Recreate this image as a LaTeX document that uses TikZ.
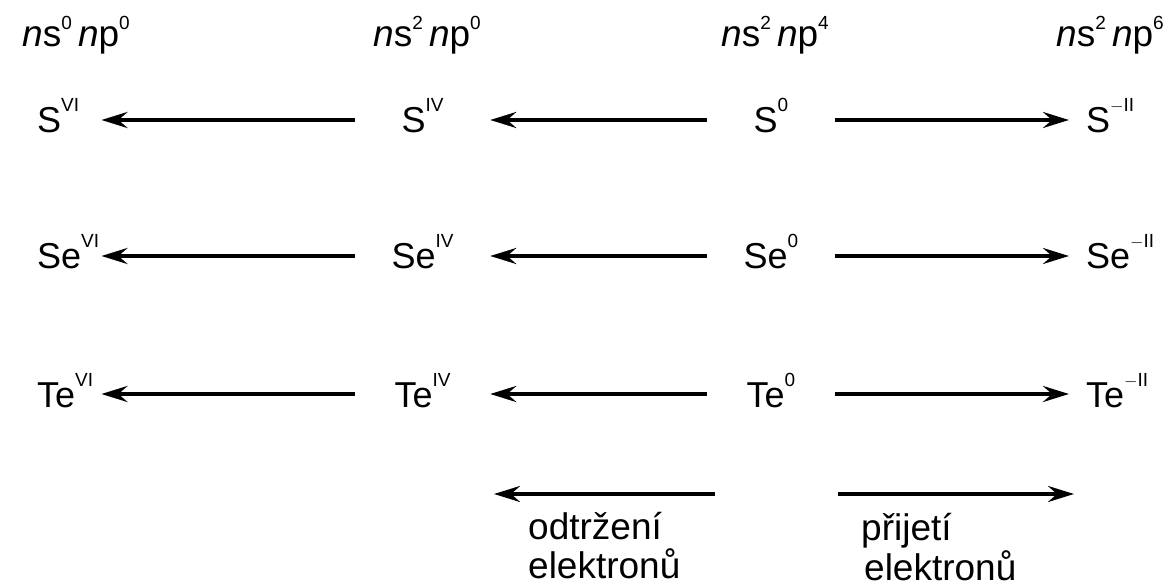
\documentclass[tikz,border=0pt]{standalone}
\usepackage{fontspec}
\setmainfont{Liberation Sans}
\usetikzlibrary{arrows.meta}
\newcommand{\elsup}[1]{\raisebox{21pt}{\fontsize{19}{19}\selectfont #1}}
\newcommand{\hdsup}[1]{\raisebox{17pt}{\fontsize{19}{19}\selectfont #1}}
\newcommand{\hdr}[2]{\textit{n}s\hdsup{#1}\,\textit{n}p\hdsup{#2}}
\begin{document}
\begin{tikzpicture}[x=1pt,y=-1pt,
  el/.style={font=\fontsize{36}{40}\selectfont, inner sep=0pt, text height=26pt, text depth=0pt},
  colA/.style={el, anchor=base west, text width=64pt, align=left},
  colB/.style={el, anchor=base, minimum width=135pt},
  colC/.style={el, anchor=base, minimum width=128pt},
  colD/.style={el, anchor=base west},
  hd/.style={font=\fontsize{37}{40}\selectfont, inner sep=0pt, anchor=base},
  lbl/.style={font=\fontsize{37}{42}\selectfont, inner sep=0pt, anchor=base west},
  arr/.style={line width=4pt, -{Stealth[length=26pt,width=16pt,inset=9pt]}}
]
\useasboundingbox (0,0) rectangle (1171,588);
% headers
\node[hd] (h1) at (76,47) {\hdr{0}{0}};
\node[hd] (h2) at (427,47) {\hdr{2}{0}};
\node[hd] (h3) at (775,47) {\hdr{2}{4}};
\node[hd] (h4) at (1110,47) {\hdr{2}{6}};
% row S
\node[colA] (S6) at (37,133) {S\elsup{VI}};
\node[colB] (S4) at (422.5,133) {S\elsup{IV}};
\node[colC] (S0) at (771,133) {S\elsup{0}};
\node[colD] (S2) at (1086,133) {S\elsup{$-$II}};
% row Se
\node[colA] (Se6) at (37,269) {Se\elsup{VI}};
\node[colB] (Se4) at (422.5,269) {Se\elsup{IV}};
\node[colC] (Se0) at (771,269) {Se\elsup{0}};
\node[colD] (Se2) at (1086,269) {Se\elsup{$-$II}};
% row Te
\node[colA] (Te6) at (37,407) {Te\elsup{VI}};
\node[colB] (Te4) at (422.5,407) {Te\elsup{IV}};
\node[colC] (Te0) at (771,407) {Te\elsup{0}};
\node[colD] (Te2) at (1086,407) {Te\elsup{$-$II}};
% arrows
\foreach \e in {S,Se,Te}{
  \draw[arr] (\e4.west) -- (\e6.east);
  \draw[arr] (\e0.west) -- (\e4.east);
  \draw[arr, shorten >=17pt] (\e0.east) -- (\e2.west);
}
% legend arrows
\coordinate (la1) at (715,494);
\coordinate (la2) at (494,494);
\coordinate (ra1) at (838,494);
\coordinate (ra2) at (1074,494);
\draw[arr] (la1) -- (la2);
\draw[arr] (ra1) -- (ra2);
\node[lbl] (l1) at (528,539) {odtržení};
\node[lbl] (l2) at (528,578) {elektronů};
\node[lbl] (r1) at (861,540) {přijetí};
\node[lbl] (r2) at (864,580) {elektronů};
\end{tikzpicture}
\end{document}
